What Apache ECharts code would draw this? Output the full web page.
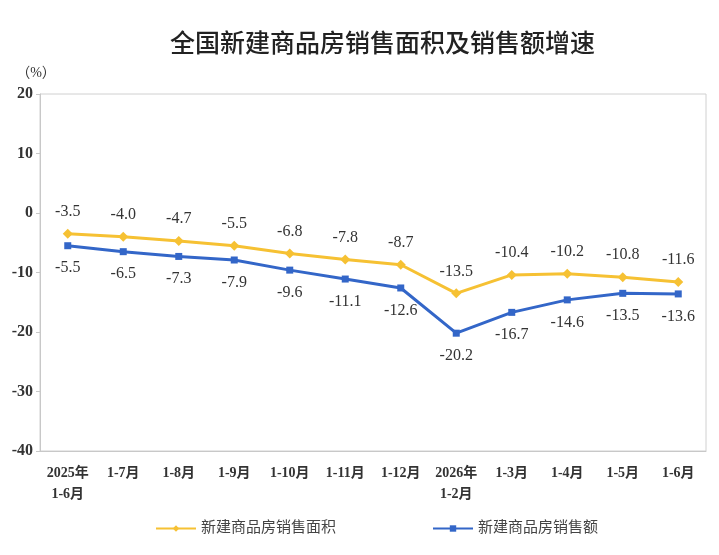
<!DOCTYPE html>
<html>
<head>
<meta charset="utf-8">
<script src="https://cdn.jsdelivr.net/npm/echarts@6/dist/echarts.min.js"></script>
<style>
  html, body { margin: 0; padding: 0; background: #fff; }
  #chart { width: 719px; height: 555px; }
</style>
</head>
<body>
<div id="chart"></div>
<script>
// 数据
const categories = ['2025年\n1-6月', '1-7月', '1-8月', '1-9月', '1-10月', '1-11月', '1-12月', '2026年\n1-2月', '1-3月', '1-4月', '1-5月', '1-6月'];
const areaGrowth = [-3.5, -4.0, -4.7, -5.5, -6.8, -7.8, -8.7, -13.5, -10.4, -10.2, -10.8, -11.6];
const salesGrowth = [-5.5, -6.5, -7.3, -7.9, -9.6, -11.1, -12.6, -20.2, -16.7, -14.6, -13.5, -13.6];
const yTicks = [-40, -30, -20, -10, 0, 10, 20];

const serif = '"Liberation Serif", "Noto Sans CJK SC", serif';

const chart = echarts.init(document.getElementById('chart'));
chart.setOption({
    backgroundColor: '#fff',
    title: {
        text: '全国新建商品房销售面积及销售额增速',
        left: 165,
        top: 25,
        textStyle: {
            fontFamily: '"Noto Sans CJK SC", sans-serif',
            fontSize: 25,
            fontWeight: 500,
            color: '#222'
        }
    },
    grid: {
        left: 40,
        right: 13,
        top: 94,
        bottom: 104,
        show: true,
        borderColor: '#d0d0d0',
        borderWidth: 1
    },
    legend: {
        bottom: 14,
        left: 150,
        itemGap: 96,
        itemWidth: 40,
        itemHeight: 8,
        textStyle: { fontFamily: serif, fontSize: 15, color: '#444' },
        data: ['新建商品房销售面积', '新建商品房销售额']
    },
    xAxis: {
        type: 'category',
        data: categories,
        boundaryGap: true,
        axisLine: { onZero: false, lineStyle: { color: '#c8c8c8' } },
        axisTick: { inside: true, length: 5, lineStyle: { color: '#c8c8c8' } },
        axisLabel: {
            fontFamily: serif,
            fontSize: 14,
            fontWeight: 'bold',
            color: '#333',
            margin: 12,
            lineHeight: 21,
            interval: 0
        }
    },
    yAxis: {
        type: 'value',
        min: yTicks[0],
        max: yTicks[yTicks.length - 1],
        interval: 10,
        name: '（%）',
        nameLocation: 'end',
        nameGap: 14,
        nameTextStyle: { fontFamily: serif, fontSize: 14, color: '#333', padding: [0, 0, 0, -8] },
        axisLine: { show: true, lineStyle: { color: '#c8c8c8' } },
        axisTick: { show: true, length: 4, lineStyle: { color: '#c8c8c8' } },
        splitLine: { show: false },
        axisLabel: { fontFamily: serif, fontSize: 16, fontWeight: 'bold', color: '#333', margin: 7 }
    },
    series: [
        {
            name: '新建商品房销售面积',
            type: 'line',
            data: areaGrowth,
            symbol: 'diamond',
            symbolSize: 10,
            lineStyle: { width: 3, color: '#F6C133' },
            itemStyle: { color: '#F6C133' },
            label: {
                show: true,
                position: 'top',
                distance: 9,
                fontFamily: serif,
                fontSize: 16,
                color: '#333',
                formatter: p => p.value.toFixed(1)
            }
        },
        {
            name: '新建商品房销售额',
            type: 'line',
            data: salesGrowth,
            symbol: 'rect',
            symbolSize: 7,
            lineStyle: { width: 3, color: '#3366C8' },
            itemStyle: { color: '#3366C8' },
            label: {
                show: true,
                position: 'bottom',
                distance: 11,
                fontFamily: serif,
                fontSize: 16,
                color: '#333',
                formatter: p => p.value.toFixed(1)
            }
        }
    ]
});
</script>
</body>
</html>
